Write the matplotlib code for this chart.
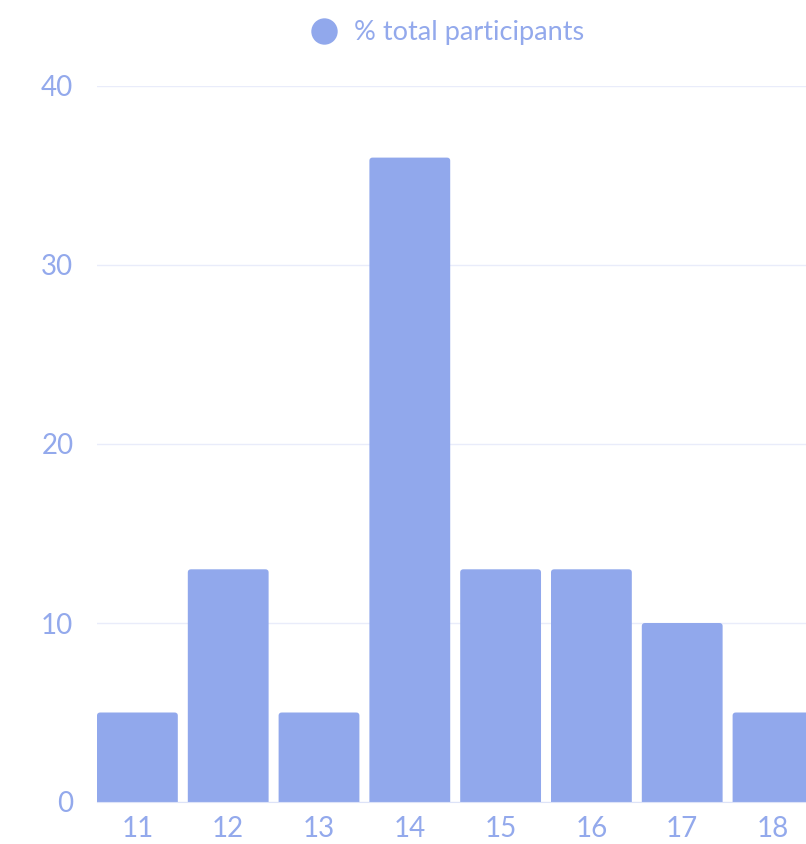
import matplotlib.pyplot as plt
from matplotlib.patches import FancyBboxPatch
from matplotlib.lines import Line2D

ages = ["11", "12", "13", "14", "15", "16", "17", "18"]
percent = [5, 13, 5, 36, 13, 13, 10, 5]
y_ticks = [0, 10, 20, 30, 40]

bar_color = "#91a8ec"
text_color = "#93a9ec"
grid_color = "#e9ecfa"

plt.rcParams['font.family'] = ['Lato', 'DejaVu Sans']

fig = plt.figure(figsize=(8.06, 8.44), dpi=100)
ax = fig.add_axes([97 / 806, 42 / 844, 709 / 806, 716 / 844])

width = 0.89
for i, v in enumerate(percent):
    # rounded box that starts below zero, so only the top corners show
    ax.add_patch(FancyBboxPatch((i - width / 2, -0.5), width, v + 0.5,
                                boxstyle="round,pad=0,rounding_size=0.035",
                                mutation_aspect=5.0,
                                facecolor=bar_color, edgecolor="none", zorder=3))

ax.set_xlim(-width / 2, -width / 2 + 709 / 90.8)
ax.set_ylim(0, 40)
ax.set_xticks(range(len(ages)))
ax.set_xticklabels(ages)
ax.set_yticks(y_ticks)

ax.grid(axis='y', color=grid_color, linewidth=1, zorder=0)
for s in ["top", "right", "left"]:
    ax.spines[s].set_visible(False)
ax.spines["bottom"].set_color("#dde3f8")
ax.spines["bottom"].set_zorder(4)
ax.tick_params(axis='both', length=0, labelsize=20, labelcolor=text_color)
ax.tick_params(axis='x', pad=10)
ax.tick_params(axis='y', pad=17)

handle = Line2D([], [], marker='o', linestyle='none', markersize=19,
                markerfacecolor=bar_color, markeredgecolor='none')
fig.legend([handle], ["% total participants"], loc='center',
           bbox_to_anchor=(0.553, 0.961), frameon=False, fontsize=19.5,
           labelcolor=text_color, handletextpad=0.5, handlelength=1.2)

plt.savefig("out.png", dpi=100)
